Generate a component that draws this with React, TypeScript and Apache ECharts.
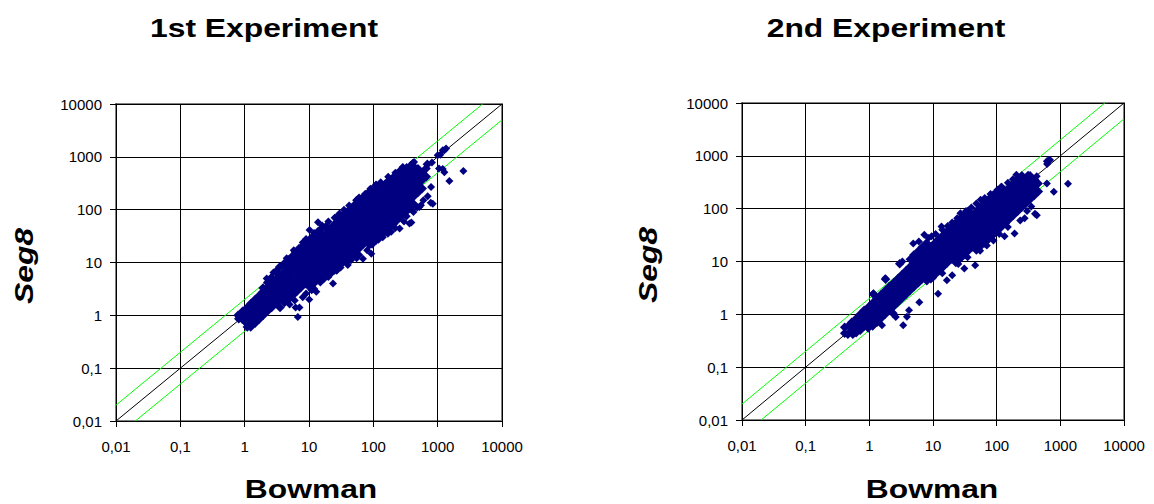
import React, { useEffect, useRef } from "react";
import * as echarts from "echarts";

const TICK_LABELS = ["0,01", "0,1", "1", "10", "100", "1000", "10000"];
const TITLES = ["1st Experiment", "2nd Experiment"];
const X_NAME = "Bowman";
const Y_NAME = "Seg8";

const IDENTITY_LINE = [[0.01, 0.01], [10000, 10000]];
const UPPER_LINE = [[0.01, 0.02], [5000, 10000]];
const LOWER_LINE = [[0.02, 0.01], [10000, 5000]];

// 1st experiment: Bowman (x) vs Seg8 (y)
const EXP1_CORE = [
  [0.79, 1.0], [0.81, 0.86],
  [0.92, 0.84], [0.93, 1.19],
  [1.07, 0.71], [1.06, 1.0], [1.08, 1.38], [1.1, 0.6],
  [1.24, 0.6], [1.24, 0.84], [1.23, 1.19], [1.25, 1.68],
  [1.45, 0.71], [1.44, 1.0], [1.46, 1.41], [1.45, 2.0],
  [1.68, 0.84], [1.7, 1.19], [1.67, 1.68], [1.69, 2.37],
  [1.95, 1.0], [1.95, 1.41], [1.97, 2.0], [1.94, 2.82], [1.93, 3.3],
  [2.26, 1.19], [2.25, 1.68], [2.27, 2.37], [2.26, 3.35], [2.28, 4.2],
  [2.63, 1.41], [2.6, 2.0], [2.65, 2.82], [2.62, 3.98], [2.62, 5.2],
  [3.05, 1.68], [3.05, 2.37], [3.02, 3.35], [3.07, 4.73], [3.05, 6.68],
  [3.55, 1.41], [3.5, 2.0], [3.55, 2.82], [3.58, 3.98], [3.54, 5.62], [3.5, 8.2],
  [4.15, 1.75], [4.12, 2.37], [4.1, 3.35], [4.15, 4.73], [4.12, 6.68], [4.1, 9.44],
  [4.79, 2.0], [4.8, 2.82], [4.75, 3.98], [4.82, 5.62], [4.78, 7.94], [4.8, 11.2],
  [5.56, 2.37], [5.6, 3.35], [5.5, 4.73], [5.58, 6.68], [5.55, 9.44], [5.55, 13.3],
  [6.46, 2.82], [6.4, 3.98], [6.5, 5.62], [6.45, 7.94], [6.48, 11.2], [6.45, 15.8],
  [7.5, 3.35], [7.45, 4.73], [7.55, 6.68], [7.5, 9.44], [7.48, 13.3], [7.5, 18.8],
  [8.71, 3.98], [8.65, 5.62], [8.75, 7.94], [8.7, 11.2], [8.72, 15.8], [8.7, 22.4],
  [10.3, 3.4], [10.1, 4.73], [10.0, 6.68], [10.2, 9.44], [10.1, 13.3], [10.1, 18.8], [10.1, 26.6],
  [11.7, 3.98], [11.6, 5.62], [11.8, 7.94], [11.7, 11.2], [11.6, 15.8], [11.8, 22.4], [11.7, 31.6],
  [13.6, 4.73], [13.5, 6.68], [13.7, 9.44], [13.6, 13.3], [13.5, 18.8], [13.7, 26.6], [13.6, 37.6],
  [15.8, 5.62], [15.9, 7.94], [15.7, 11.2], [15.8, 15.8], [15.9, 22.4], [15.7, 31.6], [15.8, 44.7],
  [18.4, 6.68], [18.3, 9.44], [18.5, 13.3], [18.4, 18.8], [18.3, 26.6], [18.5, 36], [18.4, 48],
  [21.6, 6.2], [21.4, 7.94], [21.2, 11.2], [21.5, 15.8], [21.4, 22.4], [21.3, 31.6], [21.4, 44.7],
  [25, 7.2], [24.8, 9.44], [24.6, 13.3], [25, 18.8], [24.8, 26.6], [24.7, 37.6], [24.8, 53.1],
  [29, 8.7], [28.8, 11.2], [28.6, 15.8], [29, 22.4], [28.8, 31.6], [28.7, 44.7], [28.8, 63.1],
  [33.8, 10.2], [33.5, 13.3], [33.2, 18.8], [33.7, 26.6], [33.5, 37.6], [33.4, 53.1], [33.5, 75],
  [38.9, 11.2], [38.7, 15.8], [39.1, 22.4], [38.9, 31.6], [38.8, 44.7], [39, 63.1], [38.9, 89],
  [45.2, 13.3], [45, 18.8], [45.4, 26.6], [45.2, 37.6], [45.1, 53.1], [45.3, 75], [45.2, 106],
  [52.5, 15.8], [52.2, 22.4], [52.8, 31.6], [52.5, 44.7], [52.4, 63.1], [52.6, 89], [52.5, 126],
  [61, 18.8], [60.5, 26.6], [61.5, 37.6], [61, 53.1], [60.8, 75], [61.2, 106], [61, 150],
  [70.8, 22.4], [70.5, 31.6], [71, 44.7], [70.8, 63.1], [70.6, 89], [71, 126], [70.8, 178],
  [82.2, 26.6], [82, 37.6], [82.5, 53.1], [82.2, 75], [82, 106], [82.4, 150], [82.2, 205],
  [95.5, 22.4], [95, 31.6], [96, 44.7], [95.5, 63.1], [95.2, 89], [95.8, 126], [95.5, 175], [95.5, 240],
  [111, 26.6], [110, 37.6], [112, 53.1], [111, 75], [110.5, 106], [111.5, 150], [111, 205], [111, 280],
  [129, 31.6], [128, 44.7], [130, 63.1], [129, 89], [128.5, 126], [129.5, 178], [129, 251],
  [150, 37.6], [149, 53.1], [151, 75], [150, 106], [149.5, 150], [150.5, 211], [147, 260], [150, 299],
  [174, 44.7], [173, 63.1], [175, 89], [174, 126], [173.5, 178], [174.5, 251], [174, 355],
  [202, 53.1], [200, 75], [204, 106], [202, 150], [201, 211], [203, 299], [202, 400],
  [234, 63.1], [232, 89], [236, 126], [234, 178], [233, 251], [235, 355], [234, 470],
  [272, 75], [270, 106], [274, 150], [272, 211], [271, 299], [273, 422], [272, 540],
  [316, 89], [313, 126], [318, 178], [316, 251], [315, 355], [317, 501],
  [367, 106], [364, 150], [370, 211], [367, 299], [366, 422], [368, 560],
  [427, 126], [424, 178], [430, 251], [427, 355], [426, 501], [428, 650],
  [495, 211], [492, 299], [498, 422], [495, 596],
  [575, 251], [570, 355], [580, 501],
  [668, 422], [660, 600], [690, 720],
];
const EXP1_SCATTERED = [
  [3.5, 8.2], [5.8, 17], [10.2, 41], [13.8, 58], [29, 81], [30, 85], [54, 150], [57, 158],
  [149, 290], [197, 375], [288, 645], [285, 630], [407, 765], [430, 800], [815, 780],
  [1000, 1070], [1100, 1100], [1270, 1330], [1350, 1440], [1200, 1330], [1050, 600],
  [6.7, 0.93], [7.1, 1.4], [6.2, 1.4], [10.1, 2.0], [13, 2.8], [23.6, 4.0], [34, 10.2],
  [39, 10.6], [69, 11.8], [87, 21], [93, 14.7], [158, 41], [168, 35], [200, 63], [256, 44],
  [365, 55], [390, 57], [520, 112], [550, 121], [780, 135], [840, 130], [790, 270],
  [1270, 510], [1200, 590], [1520, 350], [2510, 540],
  [2.2, 5], [2.8, 6.5], [4.5, 12], [6, 16], [7, 19], [8, 24], [9, 28], [12, 36], [16, 50],
  [20, 60], [25, 70], [35, 100], [42, 120], [60, 170], [75, 200], [90, 250], [110, 300],
  [130, 330], [170, 420], [220, 500], [260, 560], [330, 640], [380, 700],
  [5, 1.6], [6, 1.9], [8, 2.2], [9, 2.6], [11, 3], [12, 3.2], [15, 4.2], [17, 4.8], [20, 5.3],
  [27, 7], [31, 8], [40, 9], [45, 11], [55, 12], [60, 14], [80, 17], [100, 24], [120, 27],
  [140, 30], [190, 38], [220, 45], [300, 60], [330, 75], [420, 90], [480, 110], [600, 150], [700, 180],
];

// 2nd experiment
const EXP2_CORE = [
  [0.41, 0.57], [0.41, 0.44],
  [0.46, 0.42], [0.47, 0.6],
  [0.54, 0.5], [0.53, 0.71], [0.55, 0.42],
  [0.62, 0.6], [0.63, 0.84], [0.62, 0.45],
  [0.72, 0.5], [0.73, 0.71], [0.72, 1.0],
  [0.84, 0.6], [0.85, 0.84], [0.83, 1.19],
  [0.98, 0.71], [0.97, 1.0], [0.99, 1.41], [0.96, 0.55],
  [1.13, 0.6], [1.14, 0.84], [1.12, 1.19], [1.15, 1.68], [1.16, 2.4],
  [1.32, 0.71], [1.31, 1.0], [1.33, 1.41], [1.32, 2.0],
  [1.53, 0.84], [1.52, 1.19], [1.54, 1.68], [1.53, 2.37],
  [1.78, 1.0], [1.77, 1.41], [1.79, 2.0], [1.78, 2.82], [1.8, 4.6],
  [2.07, 1.19], [2.06, 1.68], [2.08, 2.37], [2.06, 3.35],
  [2.35, 1.05], [2.4, 1.41], [2.39, 2.0], [2.41, 2.82], [2.4, 3.98],
  [2.79, 1.68], [2.78, 2.37], [2.8, 3.35], [2.79, 4.73],
  [3.24, 2.0], [3.22, 2.82], [3.25, 3.98], [3.24, 5.62], [3.0, 9.1],
  [3.76, 2.37], [3.74, 3.35], [3.77, 4.73], [3.76, 6.68],
  [4.37, 2.82], [4.35, 3.98], [4.38, 5.62], [4.36, 7.94], [4.4, 11],
  [5.07, 3.35], [5.05, 4.73], [5.09, 6.68], [5.07, 9.44], [5.0, 13.3],
  [5.89, 3.98], [5.87, 5.62], [5.91, 7.94], [5.89, 11.2], [5.9, 15.8],
  [6.84, 4.73], [6.82, 6.68], [6.86, 9.44], [6.84, 13.3], [6.8, 18.8],
  [7.94, 5.62], [7.9, 7.94], [7.98, 11.2], [7.94, 15.8], [7.92, 22.4],
  [9.25, 4.73], [9.23, 6.68], [9.2, 9.44], [9.26, 13.3], [9.23, 18.8],
  [10.7, 5.62], [10.6, 7.94], [10.8, 11.2], [10.7, 15.8], [10.7, 22.4],
  [12.4, 6.68], [12.3, 9.44], [12.5, 13.3], [12.4, 18.8], [12.4, 26.6],
  [14.5, 7.94], [14.4, 11.2], [14.6, 15.8], [14.5, 22.4], [14.5, 31.6],
  [16.8, 9.44], [16.7, 13.3], [16.9, 18.8], [16.8, 26.6], [16.8, 37.6],
  [19.5, 11.2], [19.4, 15.8], [19.6, 22.4], [19.5, 31.6], [19.5, 44.7],
  [22.8, 9.6], [22.6, 13.3], [22.5, 18.8], [22.7, 26.6], [22.6, 37.6], [22.6, 53.1],
  [26.3, 11.2], [26.2, 15.8], [26.4, 22.4], [26.3, 31.6], [26.3, 44.7], [26.4, 63.1],
  [30.5, 13.3], [30.4, 18.8], [30.6, 26.6], [30.5, 37.6], [30.5, 53.1], [30.6, 75],
  [35.5, 15.8], [35.3, 22.4], [35.7, 31.6], [35.5, 44.7], [35.5, 63.1], [35.6, 89],
  [41.2, 18.8], [41, 26.6], [41.4, 37.6], [41.2, 53.1], [41.2, 75],
  [48, 16.5], [47.9, 22.4], [47.7, 31.6], [48.1, 44.7], [47.9, 63.1], [47.9, 89],
  [55.5, 19.5], [55.6, 26.6], [55.4, 37.6], [55.8, 53.1], [55.6, 75], [55.6, 106],
  [64.6, 22.4], [64.4, 31.6], [64.8, 44.7], [64.6, 63.1], [64.6, 89], [64.7, 126],
  [75, 26.6], [74.7, 37.6], [75.3, 53.1], [75, 75], [75, 106], [75.2, 150],
  [87.1, 31.6], [86.8, 44.7], [87.4, 63.1], [87.1, 89], [87.1, 126], [87.2, 178],
  [101, 37.6], [100, 53.1], [102, 75], [101, 106], [101, 150], [101, 211],
  [117, 44.7], [116, 63.1], [119, 89], [117, 126], [117, 178], [118, 251],
  [136, 53.1], [135, 75], [138, 106], [136, 150], [136, 211],
  [158, 63.1], [157, 89], [160, 126], [158, 178], [158, 251],
  [184, 75], [182, 106], [186, 150], [184, 211], [184, 299],
  [214, 89], [212, 126], [216, 178], [214, 251], [214, 355],
  [248, 106], [246, 150], [250, 211], [248, 299], [249, 422],
  [288, 126], [286, 178], [290, 251], [288, 355],
  [335, 150], [333, 211], [337, 299], [335, 422],
  [389, 178], [386, 251], [392, 355],
  [452, 211], [448, 299],
];
const EXP2_SCATTERED = [
  [1.16, 2.5], [1.78, 4.8], [4.9, 22], [7.3, 32], [13.6, 46], [27, 82], [56, 147], [103, 228],
  [204, 437], [311, 440], [615, 790], [660, 840], [690, 830], [620, 700], [375, 182], [425, 410],
  [1.58, 0.62], [2.6, 0.89], [3.4, 0.62], [3.9, 0.9], [4.2, 1.2], [6.1, 1.7], [12, 2.46],
  [16.5, 4.4], [20, 5.5], [31, 7.4], [46, 8.5], [89, 25], [133, 30], [191, 34], [234, 60],
  [275, 66], [427, 75], [400, 80], [615, 300], [790, 210], [1320, 297],
  [3.3, 10], [6, 24], [8.5, 28], [9.5, 30], [11, 33], [14, 40], [17, 47], [20, 55], [24, 66],
  [33, 90], [40, 105], [48, 125], [65, 160], [80, 190], [120, 260], [150, 310], [180, 360], [250, 420],
  [8, 4.2], [10, 4.9], [14, 6], [25, 9], [35, 12], [55, 16], [70, 20], [110, 33], [150, 45],
  [300, 90], [350, 110],
];

const FONT = "'Liberation Sans', Arial, Helvetica, sans-serif";

const GRIDS = [
  { left: 116, top: 104, width: 386, height: 317 },
  { left: 742, top: 103, width: 382, height: 317 },
];

export default function App() {
  const ref = useRef<HTMLDivElement>(null);

  useEffect(() => {
    if (!ref.current) return;
    const chart = echarts.init(ref.current, null, { renderer: "svg" });

    const fmt = (v: number) => {
      const i = Math.round(Math.log10(v)) + 2;
      return TICK_LABELS[i] ?? "";
    };

    const axisCommon = {
      type: "log" as const,
      logBase: 10,
      min: 0.01,
      max: 10000,
      axisLine: { show: true, onZero: false, lineStyle: { color: "#000", width: 1 } },
      axisTick: { show: true, inside: false, length: 6, lineStyle: { color: "#000", width: 1 } },
      splitLine: { show: true, lineStyle: { color: "#000", width: 1 } },
      minorTick: { show: false },
      minorSplitLine: { show: false },
    };

    const xAxes = [0, 1].map((i) => ({
      ...axisCommon,
      gridIndex: i,
      axisLabel: { fontSize: 15, color: "#000", fontFamily: FONT, margin: 18, formatter: fmt },
    }));
    const yAxes = [0, 1].map((i) => ({
      ...axisCommon,
      gridIndex: i,
      axisLabel: { fontSize: 15, color: "#000", fontFamily: FONT, margin: 14, formatter: fmt },
    }));

    const cores = [EXP1_CORE, EXP2_CORE];
    const scattered = [EXP1_SCATTERED, EXP2_SCATTERED];
    const series: any[] = [];
    [0, 1].forEach((i) => {
      series.push({
        type: "line", xAxisIndex: i, yAxisIndex: i, data: IDENTITY_LINE, symbol: "none",
        lineStyle: { color: "#000", width: 1 }, silent: true, z: 1,
      });
      series.push({
        type: "line", xAxisIndex: i, yAxisIndex: i, data: UPPER_LINE, symbol: "none",
        lineStyle: { color: "#00ff00", width: 1 }, silent: true, z: 1,
      });
      series.push({
        type: "line", xAxisIndex: i, yAxisIndex: i, data: LOWER_LINE, symbol: "none",
        lineStyle: { color: "#00ff00", width: 1 }, silent: true, z: 1,
      });
      series.push({
        type: "scatter", xAxisIndex: i, yAxisIndex: i, data: cores[i],
        symbol: "diamond", symbolSize: 9.5, itemStyle: { color: "#000080", opacity: 1 }, z: 3,
      });
      series.push({
        type: "scatter", xAxisIndex: i, yAxisIndex: i, data: scattered[i],
        symbol: "diamond", symbolSize: 8, itemStyle: { color: "#000080", opacity: 1 }, z: 3,
      });
    });

    const textStyle = (text: string, italic = false) => ({
      text,
      fontSize: 26.5,
      fontWeight: "bold",
      fontStyle: italic ? "italic" : "normal",
      fontFamily: FONT,
      fill: "#000",
      align: "center",
      verticalAlign: "middle",
      textAlign: "center",
      textVerticalAlign: "middle",
    });

    chart.setOption({
      animation: false,
      backgroundColor: "#fff",
      grid: GRIDS.map((g) => ({ ...g, show: true, borderColor: "#808080", borderWidth: 2, backgroundColor: "transparent" })),
      xAxis: xAxes,
      yAxis: yAxes,
      series,
      graphic: [
        { type: "text", x: 264, y: 28, scaleX: 1.2, style: textStyle(TITLES[0]) },
        { type: "text", x: 886, y: 28, scaleX: 1.2, style: textStyle(TITLES[1]) },
        { type: "text", x: 311, y: 489, scaleX: 1.2, style: textStyle(X_NAME) },
        { type: "text", x: 932, y: 489, scaleX: 1.2, style: textStyle(X_NAME) },
        { type: "text", x: 24, y: 266, rotation: Math.PI / 2, scaleX: 1.2, style: textStyle(Y_NAME, true) },
        { type: "text", x: 648, y: 265, rotation: Math.PI / 2, scaleX: 1.2, style: textStyle(Y_NAME, true) },
      ],
    });

    return () => chart.dispose();
  }, []);

  return (
    <div
      ref={ref}
      style={{ position: "absolute", left: 0, top: 0, width: 1154, height: 504, background: "#fff" }}
    />
  );
}
